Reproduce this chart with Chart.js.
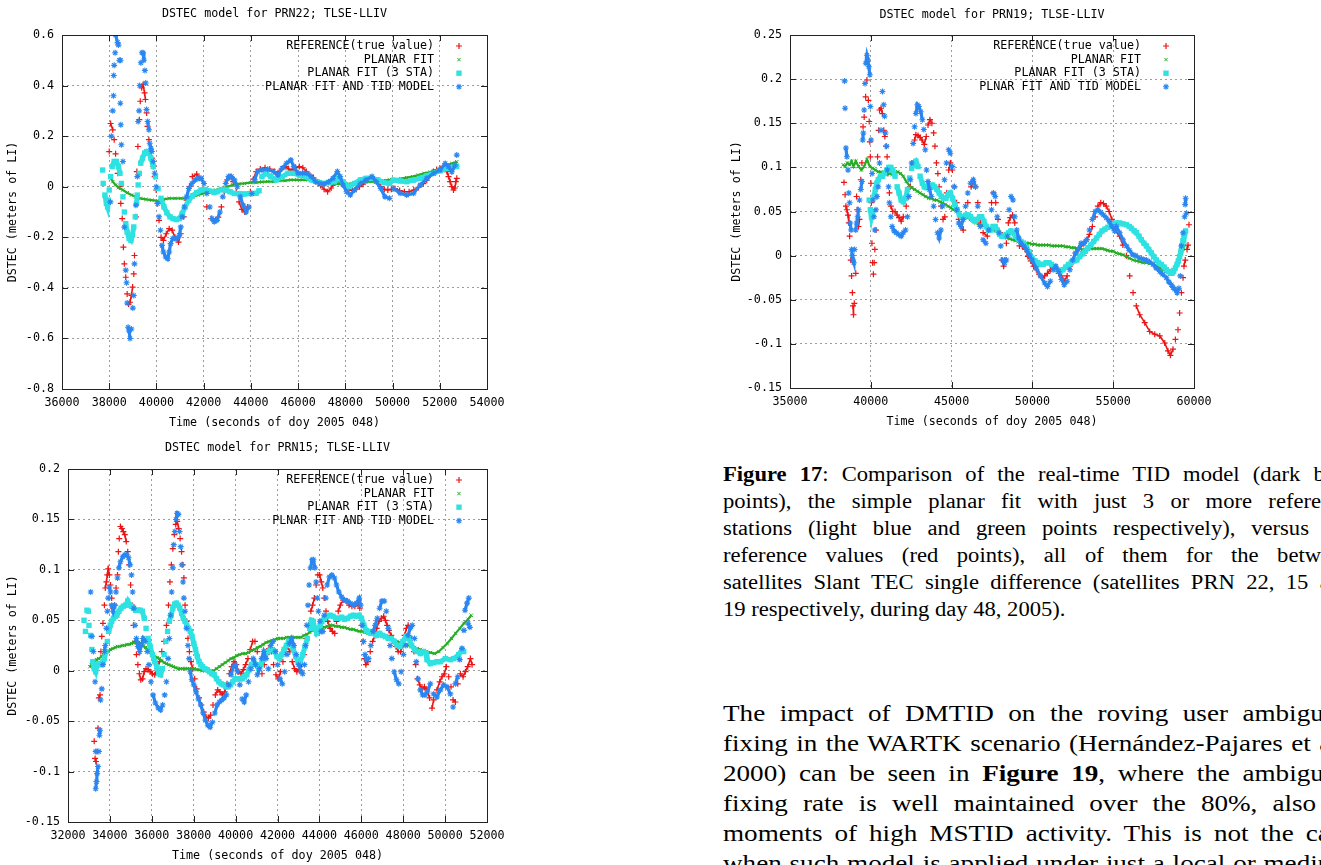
<!DOCTYPE html>
<html lang="en">
<head>
<meta charset="UTF-8">
<title>DSTEC model - TLSE-LLIV</title>
<script src="https://cdn.jsdelivr.net/npm/chart.js"></script>
<style>
  html, body { margin: 0; padding: 0; background: #fff; }
  body { position: relative; width: 1321px; height: 865px; overflow: hidden; }
  canvas { position: absolute; }
  .cap, .par { position: absolute; left: 723px; width: 557px; color: #000;
               font-family: "Liberation Serif", "Times New Roman", serif;
               transform: scaleX(1.13); transform-origin: 0 0; }
  .cap { top: 461px; font-size: 20px; line-height: 27px; }
  .par { top: 698px; font-size: 24px; line-height: 30px; }
  .j { text-align: justify; text-align-last: justify; }
</style>
<script>
// ---- series labels ----
const labels22 = ['REFERENCE(true value)', 'PLANAR FIT', 'PLANAR FIT (3 STA)', 'PLANAR FIT AND TID MODEL'];
const labels19 = ['REFERENCE(true value)', 'PLANAR FIT', 'PLANAR FIT (3 STA)', 'PLNAR FIT AND TID MODEL'];
const labels15 = labels19;

// ---- tick values ----
const prn22XTicks = [36000, 38000, 40000, 42000, 44000, 46000, 48000, 50000, 52000, 54000];
const prn22YTicks = [-0.8, -0.6, -0.4, -0.2, 0, 0.2, 0.4, 0.6];
const prn19XTicks = [35000, 40000, 45000, 50000, 55000, 60000];
const prn19YTicks = [-0.15, -0.1, -0.05, 0, 0.05, 0.1, 0.15, 0.2, 0.25];
const prn15XTicks = [32000, 34000, 36000, 38000, 40000, 42000, 44000, 46000, 48000, 50000, 52000];
const prn15YTicks = [-0.15, -0.1, -0.05, 0, 0.05, 0.1, 0.15, 0.2];

// ---- PRN22 : [time (s), DSTEC (m of LI)] ----
const prn22Ref = [[38000,0.139],[38060,0.25],[38150,0.225],[38210,0.186],[38270,0.13],[38360,0.053],[38430,0],[38490,-0.066],[38550,-0.126],[38600,-0.239],[38640,-0.305],[38700,-0.358],[38760,-0.424],[38820,-0.464],[38880,-0.457],[38940,-0.43],[38990,-0.397],[39040,-0.345],[39070,-0.272],[39130,-0.119],[39170,0.06],[39215,0.159],[39275,0.265],[39315,0.338],[39375,0.391],[39435,0.404],[39495,0.371],[39535,0.345],[39585,0.292],[39620,0.239],[39680,0.186],[39740,0.146],[39805,0.113],[39865,0.08],[39925,0.04],[39990,-0.013],[40050,-0.066],[40110,-0.133],[40195,-0.2],[40295,-0.212],[40415,-0.186],[40540,-0.166],[40665,-0.172],[40785,-0.2],[40935,-0.219],[41030,-0.186],[41155,-0.119],[41275,-0.053],[41400,0],[41520,0.04],[41705,0.05],[41830,0.033],[41950,-0.013],[42135,-0.08],[42320,-0.126],[42500,-0.133],[42620,-0.12],[42750,-0.08],[42870,-0.02],[43000,0.027],[43120,0.04],[43250,0.02],[43380,-0.02],[43500,-0.06],[43620,-0.09],[43740,-0.1],[43860,-0.08],[43980,-0.02],[44100,0.03],[44230,0.06],[44400,0.07],[44600,0.075],[44800,0.07],[45000,0.06],[45150,0.055],[45300,0.07],[45450,0.08],[45600,0.07],[45750,0.065],[45900,0.075],[46050,0.08],[46200,0.075],[46350,0.06],[46500,0.045],[46650,0.035],[46800,0.02],[46950,0.005],[47100,-0.01],[47250,-0.02],[47400,-0.005],[47550,0.015],[47700,0.03],[47850,0.015],[48000,0],[48150,-0.01],[48300,-0.015],[48450,-0.01],[48600,0],[48750,0.01],[48900,0.025],[49050,0.033],[49200,0.03],[49350,0.02],[49500,0],[49650,-0.01],[49800,-0.013],[49950,-0.01],[50100,-0.007],[50300,-0.015],[50500,-0.02],[50700,-0.02],[50900,-0.013],[51100,-0.003],[51300,0.012],[51450,0.026],[51600,0.045],[51730,0.06],[51870,0.068],[52015,0.072],[52150,0.078],[52230,0.08],[52300,0.06],[52370,0.04],[52440,0.02],[52510,0],[52580,-0.013],[52640,-0.005],[52680,0.02],[52720,0.033]];
const prn22Planar = [[38025,0.04],[38150,0.02],[38270,0.007],[38390,-0.003],[38575,-0.013],[38760,-0.024],[38945,-0.033],[39130,-0.04],[39315,-0.046],[39560,-0.05],[39805,-0.053],[40050,-0.056],[40295,-0.05],[40540,-0.046],[40785,-0.046],[41030,-0.046],[41275,-0.046],[41520,-0.04],[41770,-0.033],[42015,-0.026],[42260,-0.02],[42505,-0.013],[42750,-0.007],[42995,0],[43240,0.007],[43485,0.011],[43730,0.013],[43980,0.016],[44220,0.016],[44465,0.019],[44710,0.02],[44960,0.02],[45200,0.024],[45450,0.024],[45690,0.027],[45940,0.027],[46185,0.027],[46430,0.027],[46675,0.024],[46920,0.02],[47165,0.016],[47410,0.013],[47655,0.011],[47900,0.011],[48145,0.011],[48390,0.013],[48640,0.016],[48880,0.019],[49130,0.02],[49375,0.023],[49620,0.024],[49865,0.027],[50110,0.029],[50355,0.032],[50600,0.036],[50845,0.04],[51090,0.046],[51335,0.053],[51600,0.058],[51730,0.063],[52015,0.072],[52300,0.086],[52510,0.092],[52720,0.099]];
const prn22Planar3 = [[37720,0.066],[37745,0.013],[37815,-0.033],[37880,-0.066],[37930,-0.08],[37965,-0.053],[38000,-0.013],[38060,0.04],[38125,0.08],[38210,0.1],[38305,0.1],[38390,0.08],[38455,0.053],[38515,0.013],[38580,-0.04],[38640,-0.1],[38700,-0.146],[38760,-0.179],[38845,-0.205],[38920,-0.212],[38980,-0.192],[39040,-0.159],[39105,-0.119],[39155,-0.066],[39190,-0.033],[39225,0.007],[39275,0.053],[39335,0.093],[39410,0.113],[39500,0.133],[39585,0.139],[39680,0.133],[39765,0.113],[39865,0.08],[39960,0.04],[40070,-0.007],[40195,-0.046],[40320,-0.08],[40440,-0.103],[40575,-0.119],[40700,-0.126],[40845,-0.13],[40970,-0.126],[41090,-0.106],[41215,-0.08],[41370,-0.053],[41520,-0.036],[41705,-0.023],[41890,-0.013],[42075,-0.011],[42260,-0.017],[42440,-0.023],[42565,-0.02],[42750,-0.011],[42935,-0.013],[43120,-0.02],[43300,-0.027],[43490,-0.027],[43730,-0.029],[43980,-0.027],[44220,-0.026],[44345,-0.016],[44465,0.04],[44650,0.053],[44835,0.04],[45080,0.027],[45325,0.04],[45570,0.053],[45815,0.053],[46060,0.046],[46310,0.04],[46555,0.027],[46800,0.02],[47045,0.013],[47290,0.016],[47535,0.02],[47720,0.033],[47900,0.02],[48150,0],[48390,0.013],[48640,0.027],[48880,0.033],[49130,0.033],[49375,0.027],[49620,0.016],[49865,0.013],[50040,0.026],[50320,0.023],[50600,0.02],[50890,0.026],[51170,0.033],[51450,0.043],[51730,0.053],[52015,0.063],[52300,0.072],[52510,0.076],[52720,0.08]];
const prn22Tid = [[38050,-0.06],[38090,0.2],[38150,0.3],[38180,0.36],[38190,0.44],[38210,0.48],[38250,0.53],[38270,0.6],[38355,0.57],[38390,0.56],[38430,0.5],[38480,0.5],[38470,0.33],[38490,0.245],[38515,0.166],[38580,0.1],[38640,-0.16],[38700,-0.33],[38735,-0.38],[38760,-0.46],[38800,-0.556],[38845,-0.57],[38880,-0.6],[38940,-0.563],[39000,-0.48],[39040,-0.43],[39070,-0.305],[39130,-0.073],[39190,0.04],[39225,0.258],[39265,0.3],[39290,0.4],[39340,0.49],[39385,0.53],[39435,0.53],[39470,0.5],[39510,0.46],[39545,0.41],[39580,0.305],[39630,0.258],[39680,0.225],[39715,0.172],[39765,0.152],[39805,0.139],[39865,0.1],[39925,0.053],[39990,0],[40050,-0.066],[40110,-0.119],[40170,-0.172],[40235,-0.232],[40295,-0.258],[40390,-0.278],[40480,-0.285],[40540,-0.258],[40600,-0.225],[40690,-0.205],[40785,-0.205],[40885,-0.205],[40970,-0.192],[41030,-0.159],[41090,-0.119],[41180,-0.08],[41275,-0.04],[41375,-0.007],[41500,0.013],[41645,0.027],[41770,0.033],[41890,0.033],[42015,0.013],[42135,-0.027],[42260,-0.08],[42355,-0.126],[42450,-0.139],[42565,-0.133],[42690,-0.1],[42810,-0.04],[42935,0.013],[43055,0.04],[43180,0.04],[43300,0.027],[43425,0],[43550,-0.04],[43670,-0.073],[43795,-0.1],[43920,-0.08],[44040,-0.027],[44160,0.027],[44285,0.06],[44465,0.066],[44710,0.069],[44960,0.06],[45140,0.046],[45325,0.073],[45510,0.093],[45690,0.106],[45815,0.08],[46000,0.053],[46185,0.053],[46370,0.053],[46555,0.04],[46740,0.02],[46920,0.013],[47105,0.011],[47290,0.02],[47475,0.033],[47660,0.06],[47780,0.04],[47900,0.007],[48050,-0.02],[48210,-0.033],[48390,-0.013],[48640,0.013],[48880,0.027],[49130,0.04],[49310,0.02],[49500,-0.007],[49680,-0.04],[49865,-0.046],[50040,-0.007],[50320,-0.026],[50600,-0.033],[50890,-0.026],[51170,0.007],[51450,0.033],[51730,0.053],[52015,0.066],[52230,0.092],[52370,0.079],[52510,0.059],[52650,0.086],[52720,0.125]];

// ---- PRN19 ----
const prn19Ref = [[38340,0.083],[38410,0.069],[38460,0.056],[38520,0.052],[38590,0.046],[38640,0.037],[38690,0.022],[38760,-0.005],[38810,-0.023],[38860,-0.042],[38900,-0.057],[38930,-0.067],[38980,-0.054],[39070,-0.02],[39120,0.067],[39160,0.052],[39240,0.033],[39300,0.041],[39380,0.086],[39450,0.105],[39520,0.146],[39590,0.157],[39680,0.18],[39760,0.199],[39850,0.176],[39900,0.152],[39940,0.129],[39970,0.112],[40010,0.082],[40040,0.06],[40070,0.014],[40110,-0.008],[40160,-0.021],[40210,-0.008],[40250,0.007],[40320,0.029],[40370,0.067],[40420,0.112],[40490,0.142],[40540,0.165],[40630,0.167],[40720,0.161],[40800,0.142],[40870,0.135],[40940,0.124],[41010,0.112],[41060,0.093],[41150,0.071],[41240,0.056],[41360,0.05],[41500,0.05],[41630,0.046],[41750,0.043],[41880,0.039],[42010,0.044],[42190,0.056],[42330,0.067],[42450,0.078],[42590,0.105],[42710,0.131],[42790,0.137],[42920,0.136],[43050,0.134],[43170,0.131],[43310,0.126],[43430,0.135],[43540,0.148],[43660,0.154],[43780,0.15],[43890,0.139],[43970,0.124],[44060,0.105],[44150,0.093],[44230,0.078],[44350,0.056],[44470,0.041],[44580,0.044],[44700,0.071],[44820,0.097],[44920,0.105],[45050,0.097],[45170,0.078],[45310,0.06],[45440,0.041],[45580,0.033],[45720,0.029],[45860,0.044],[46000,0.06],[46210,0.078],[46340,0.084],[46480,0.078],[46620,0.06],[46780,0.037],[46950,0.026],[47210,0.022],[47470,0.06],[47590,0.071],[47730,0.06],[47870,0.041],[47990,0.026],[48110,-0.005],[48220,-0.012],[48300,-0.005],[48390,0.014],[48510,0.037],[48630,0.043],[48770,0.046],[48910,0.037],[49030,0.022],[49200,0.011],[49380,0.011],[49550,0.007],[49720,-0.001],[49900,-0.006],[50070,-0.012],[50240,-0.016],[50410,-0.021],[50590,-0.025],[50760,-0.023],[50930,-0.02],[51110,-0.016],[51280,-0.012],[51450,-0.014],[51630,-0.02],[51800,-0.023],[51970,-0.029],[52150,-0.023],[52320,-0.012],[52490,-0.005],[52670,0.003],[52840,0.007],[53010,0.011],[53190,0.014],[53360,0.018],[53530,0.024],[53710,0.033],[53880,0.044],[54050,0.056],[54230,0.06],[54400,0.059],[54570,0.056],[54750,0.05],[54920,0.041],[55090,0.029],[55400,0.022],[55600,0.012],[55820,0],[56020,-0.023],[56230,-0.042],[56430,-0.057],[56640,-0.067],[56950,-0.076],[57260,-0.086],[57570,-0.089],[57880,-0.091],[58190,-0.099],[58390,-0.108],[58540,-0.113],[58700,-0.106],[58850,-0.095],[59010,-0.084],[59110,-0.065],[59220,-0.042],[59320,-0.025],[59380,-0.012],[59460,-0.005],[59570,0.007],[59630,0.012],[59690,0.035]];
const prn19Planar = [[38290,0.103],[38410,0.101],[38550,0.105],[38690,0.103],[38810,0.107],[38930,0.101],[39070,0.107],[39240,0.101],[39420,0.097],[39590,0.101],[39760,0.109],[39940,0.101],[40110,0.099],[40280,0.097],[40460,0.095],[40630,0.095],[40800,0.093],[40980,0.093],[41150,0.093],[41320,0.092],[41500,0.093],[41670,0.095],[41840,0.093],[42010,0.09],[42190,0.084],[42360,0.08],[42530,0.077],[42710,0.075],[42880,0.073],[43050,0.071],[43230,0.069],[43400,0.067],[43570,0.065],[43750,0.065],[43920,0.063],[44090,0.063],[44270,0.061],[44440,0.06],[44610,0.058],[44790,0.056],[44960,0.054],[45130,0.052],[45310,0.05],[45480,0.048],[45650,0.046],[45830,0.044],[46000,0.043],[46170,0.041],[46340,0.039],[46520,0.037],[46690,0.035],[46860,0.035],[47040,0.034],[47210,0.033],[47380,0.031],[47560,0.029],[47730,0.028],[47900,0.026],[48080,0.024],[48250,0.022],[48420,0.02],[48600,0.019],[48770,0.018],[48940,0.017],[49120,0.016],[49290,0.015],[49460,0.015],[49640,0.014],[49810,0.014],[49980,0.013],[50160,0.013],[50330,0.012],[50500,0.012],[50670,0.012],[50850,0.012],[51020,0.012],[51190,0.011],[51370,0.011],[51540,0.011],[51710,0.011],[51890,0.011],[52060,0.01],[52230,0.01],[52410,0.009],[52580,0.009],[52750,0.008],[52930,0.008],[53100,0.007],[53270,0.007],[53450,0.007],[53620,0.008],[53790,0.008],[53970,0.008],[54140,0.008],[54310,0.008],[54490,0.007],[54660,0.006],[54830,0.005],[55000,0.005],[55180,0.003],[55400,0.002],[55600,0.001],[55820,-0.001],[56000,-0.003],[56230,-0.005],[56450,-0.006],[56640,-0.007],[56850,-0.008],[57050,-0.008],[57250,-0.009],[57470,-0.01],[57670,-0.012],[57880,-0.014],[58080,-0.016],[58290,-0.018],[58500,-0.018],[58700,-0.016],[58900,-0.012],[59070,-0.006],[59220,0.002],[59320,0.007],[59420,0.012]];
const prn19Planar3 = [[39900,0.063],[39970,0.052],[40040,0.044],[40110,0.05],[40200,0.067],[40280,0.075],[40370,0.082],[40460,0.086],[40590,0.09],[40720,0.09],[40840,0.093],[40980,0.097],[41110,0.1],[41240,0.1],[41360,0.097],[41500,0.09],[41630,0.078],[41750,0.071],[41880,0.063],[42010,0.061],[42150,0.065],[42270,0.075],[42400,0.088],[42530,0.099],[42670,0.105],[42790,0.107],[42920,0.101],[43050,0.09],[43190,0.082],[43310,0.078],[43430,0.077],[43570,0.078],[43710,0.078],[43830,0.08],[43950,0.078],[44090,0.075],[44230,0.071],[44370,0.067],[44510,0.065],[44650,0.065],[44790,0.069],[44920,0.071],[45060,0.065],[45200,0.058],[45340,0.052],[45480,0.046],[45620,0.044],[45760,0.044],[45890,0.046],[46030,0.046],[46170,0.044],[46310,0.041],[46450,0.039],[46590,0.041],[46730,0.044],[46860,0.044],[47000,0.039],[47140,0.033],[47280,0.029],[47420,0.029],[47560,0.033],[47700,0.033],[47830,0.029],[47970,0.024],[48110,0.022],[48250,0.022],[48390,0.024],[48530,0.026],[48670,0.028],[48800,0.026],[48940,0.022],[49120,0.019],[49290,0.016],[49460,0.014],[49640,0.009],[49810,0.004],[49980,-0.003],[50160,-0.006],[50330,-0.008],[50500,-0.01],[50670,-0.01],[50850,-0.008],[51020,-0.008],[51190,-0.01],[51370,-0.014],[51540,-0.016],[51710,-0.018],[51890,-0.016],[52060,-0.013],[52230,-0.01],[52410,-0.008],[52580,-0.006],[52750,-0.005],[52930,-0.001],[53100,0.002],[53270,0.005],[53450,0.009],[53620,0.012],[53790,0.016],[53970,0.02],[54140,0.024],[54310,0.028],[54490,0.03],[54660,0.032],[54830,0.034],[55000,0.035],[55200,0.037],[55400,0.037],[55600,0.036],[55820,0.035],[56000,0.033],[56130,0.031],[56300,0.028],[56430,0.026],[56600,0.022],[56740,0.018],[56900,0.014],[57050,0.011],[57200,0.007],[57360,0.003],[57500,-0.001],[57670,-0.005],[57800,-0.008],[57980,-0.01],[58150,-0.013],[58290,-0.016],[58420,-0.018],[58540,-0.02],[58640,-0.02],[58740,-0.018],[58850,-0.014],[58950,-0.01],[59030,-0.006],[59110,-0.001],[59190,0.005],[59260,0.011],[59320,0.017],[59380,0.022],[59430,0.025],[59480,0.028]];
const prn19Tid = [[38380,0.198],[38410,0.167],[38460,0.122],[38520,0.112],[38590,0.097],[38640,0.071],[38690,0.06],[38720,0.037],[38780,0.029],[38810,0.007],[38860,0],[38900,-0.005],[38950,-0.008],[39000,0.007],[39070,0.029],[39120,0.037],[39190,0.044],[39240,0.052],[39300,0.063],[39380,0.075],[39450,0.084],[39500,0.131],[39540,0.139],[39590,0.165],[39640,0.195],[39690,0.218],[39760,0.227],[39820,0.222],[39880,0.214],[39940,0.205],[39970,0.169],[40020,0.131],[40080,0.093],[40140,0.063],[40200,0.044],[40250,0.029],[40320,0.052],[40390,0.067],[40460,0.078],[40540,0.105],[40630,0.142],[40720,0.186],[40800,0.171],[40850,0.158],[40910,0.139],[40980,0.124],[41030,0.097],[41100,0.078],[41150,0.06],[41240,0.044],[41320,0.033],[41440,0.028],[41580,0.026],[41720,0.024],[41880,0.022],[42010,0.026],[42150,0.029],[42270,0.044],[42360,0.067],[42450,0.086],[42530,0.105],[42620,0.127],[42710,0.146],[42790,0.161],[42880,0.171],[42970,0.169],[43090,0.163],[43190,0.154],[43280,0.143],[43370,0.12],[43450,0.097],[43540,0.084],[43630,0.075],[43750,0.067],[43890,0.056],[44010,0.041],[44130,0.026],[44230,0.02],[44340,0.029],[44440,0.056],[44560,0.086],[44680,0.105],[44820,0.12],[44920,0.116],[45050,0.101],[45170,0.078],[45310,0.052],[45440,0.037],[45580,0.033],[45720,0.041],[45860,0.056],[46000,0.071],[46170,0.082],[46340,0.086],[46480,0.078],[46620,0.056],[46780,0.033],[46950,0.018],[47120,0.014],[47300,0.029],[47470,0.052],[47590,0.071],[47700,0.067],[47820,0.044],[47940,0.026],[48040,0.011],[48160,-0.005],[48280,-0.008],[48390,-0.005],[48460,0.022],[48560,0.052],[48680,0.067],[48800,0.063],[48910,0.044],[49030,0.029],[49150,0.02],[49290,0.014],[49460,0.011],[49640,0.007],[49810,0.001],[49980,-0.005],[50240,-0.014],[50500,-0.023],[50760,-0.031],[50930,-0.035],[51110,-0.029],[51280,-0.016],[51450,-0.012],[51630,-0.018],[51800,-0.027],[51970,-0.033],[52150,-0.029],[52320,-0.016],[52490,-0.005],[52670,0.003],[52840,0.007],[53010,0.014],[53190,0.014],[53360,0.018],[53530,0.029],[53710,0.041],[53880,0.05],[54050,0.052],[54230,0.049],[54400,0.046],[54570,0.043],[54750,0.039],[54920,0.033],[55090,0.028],[55200,0.033],[55400,0.026],[55600,0.018],[55820,0.011],[56000,0.006],[56230,0.001],[56400,0],[56640,-0.003],[56850,-0.004],[57050,-0.005],[57250,-0.007],[57470,-0.01],[57650,-0.014],[57880,-0.018],[58050,-0.021],[58290,-0.025],[58450,-0.03],[58600,-0.033],[58700,-0.036],[58800,-0.038],[58950,-0.042],[59070,-0.037],[59150,-0.023],[59220,0.011],[59320,0.026],[59420,0.044],[59450,0.058],[59480,0.065],[59530,0.048]];

// ---- PRN15 ----
const prn15Ref = [[33182,0.004],[33251,-0.07],[33293,-0.087],[33334,-0.09],[33390,-0.08],[33432,-0.057],[33473,-0.027],[33529,-0.024],[33571,0.019],[33612,0.034],[33668,0.047],[33738,0.065],[33779,0.082],[33835,0.088],[33877,0.095],[33918,0.101],[33974,0.095],[34029,0.085],[34085,0.072],[34155,0.062],[34224,0.065],[34294,0.082],[34363,0.095],[34405,0.118],[34446,0.131],[34502,0.143],[34572,0.141],[34641,0.138],[34711,0.135],[34780,0.128],[34850,0.118],[34919,0.105],[34989,0.085],[35058,0.065],[35128,0.045],[35197,0.029],[35267,0.016],[35336,0.006],[35406,-0.003],[35475,-0.009],[35558,-0.008],[35642,-0.001],[35725,0.002],[35822,0.001],[35920,-0.001],[36031,-0.003],[36142,-0.004],[36253,0.002],[36365,0.009],[36476,0.019],[36587,0.029],[36698,0.045],[36796,0.065],[36865,0.088],[36935,0.105],[37004,0.121],[37074,0.135],[37143,0.145],[37213,0.148],[37282,0.141],[37352,0.131],[37421,0.118],[37477,0.105],[37532,0.092],[37588,0.065],[37657,0.049],[37727,0.032],[37796,0.019],[37866,0.009],[37949,0.002],[38047,-0.008],[38144,-0.018],[38255,-0.027],[38366,-0.034],[38477,-0.041],[38589,-0.046],[38700,-0.047],[38811,-0.044],[38922,-0.034],[39033,-0.024],[39145,-0.019],[39256,-0.021],[39367,-0.024],[39478,-0.021],[39589,-0.013],[39701,-0.003],[39812,0.004],[39923,0.009],[40034,0.006],[40145,-0.001],[40257,-0.003],[40368,0.001],[40479,0.006],[40590,0.012],[40701,0.021],[40813,0.029],[40924,0.029],[41035,0.019],[41146,0.006],[41258,-0.003],[41369,0.006],[41480,0.016],[41591,0.022],[41702,0.019],[41813,0.006],[41925,-0.004],[42036,-0.008],[42147,-0.001],[42258,0.009],[42369,0.019],[42481,0.024],[42592,0.019],[42703,0.009],[42814,0.002],[42925,-0.001],[43037,0.001],[43148,0.006],[43259,0.016],[43370,0.032],[43481,0.045],[43592,0.059],[43676,0.065],[43759,0.072],[43843,0.085],[43926,0.095],[44010,0.095],[44093,0.088],[44163,0.082],[44232,0.072],[44315,0.059],[44399,0.049],[44510,0.042],[44621,0.039],[44732,0.037],[44816,0.049],[44899,0.059],[44997,0.065],[45136,0.07],[45275,0.069],[45414,0.065],[45553,0.064],[45692,0.064],[45830,0.067],[45928,0.062],[46011,0.045],[46081,0.029],[46150,0.012],[46220,0.006],[46317,0.009],[46428,0.019],[46540,0.029],[46651,0.035],[46734,0.042],[46845,0.049],[46956,0.052],[47068,0.054],[47151,0.05],[47234,0.045],[47318,0.04],[47429,0.035],[47540,0.03],[47651,0.024],[47762,0.019],[47874,0.019],[47985,0.025],[48068,0.035],[48152,0.042],[48235,0.045],[48319,0.042],[48402,0.032],[48513,0.019],[48596,0.006],[48680,-0.008],[48791,-0.014],[48902,-0.018],[49013,-0.016],[49125,-0.019],[49263,-0.027],[49375,-0.037],[49454,-0.029],[49613,-0.019],[49741,-0.011],[49853,-0.006],[49964,-0.003],[50060,0.004],[50172,-0.006],[50283,-0.016],[50379,-0.029],[50490,-0.031],[50602,-0.013],[50730,-0.003],[50857,-0.006],[50969,-0.001],[51080,0.004],[51208,0.012],[51288,0.006]];
const prn15Planar = [[33043,0.004],[33112,0.006],[33182,0.007],[33251,0.009],[33362,0.011],[33460,0.012],[33599,0.014],[33696,0.016],[33807,0.017],[33918,0.019],[34029,0.021],[34141,0.022],[34252,0.023],[34363,0.024],[34474,0.024],[34585,0.025],[34697,0.025],[34808,0.026],[34919,0.026],[35030,0.027],[35141,0.028],[35253,0.028],[35364,0.028],[35475,0.027],[35586,0.025],[35697,0.023],[35809,0.021],[35920,0.018],[36031,0.016],[36142,0.014],[36253,0.013],[36365,0.012],[36476,0.01],[36587,0.008],[36698,0.007],[36809,0.006],[36921,0.005],[37032,0.004],[37143,0.003],[37254,0.002],[37365,0.002],[37477,0.002],[37588,0.002],[37699,0.002],[37810,0.002],[37921,0.002],[38033,0.002],[38144,0.001],[38255,0.001],[38394,0],[38533,0],[38672,0],[38811,0],[38950,0],[39089,0.002],[39228,0.004],[39367,0.006],[39506,0.008],[39645,0.01],[39784,0.012],[39923,0.013],[40062,0.015],[40201,0.016],[40340,0.017],[40479,0.017],[40618,0.018],[40757,0.02],[40896,0.021],[41035,0.023],[41174,0.024],[41313,0.026],[41452,0.028],[41591,0.029],[41730,0.03],[41869,0.031],[42008,0.032],[42147,0.032],[42286,0.032],[42425,0.033],[42564,0.033],[42703,0.033],[42842,0.033],[42981,0.033],[43120,0.033],[43259,0.035],[43398,0.036],[43537,0.038],[43676,0.04],[43815,0.041],[43954,0.042],[44093,0.043],[44232,0.043],[44371,0.044],[44510,0.045],[44649,0.045],[44788,0.044],[44927,0.044],[45066,0.043],[45205,0.043],[45344,0.042],[45483,0.041],[45622,0.041],[45761,0.04],[45900,0.039],[46039,0.039],[46178,0.038],[46317,0.037],[46456,0.037],[46595,0.036],[46734,0.035],[46873,0.035],[47012,0.034],[47151,0.033],[47290,0.032],[47429,0.031],[47568,0.03],[47707,0.029],[47846,0.028],[47985,0.027],[48124,0.026],[48263,0.025],[48402,0.024],[48541,0.023],[48680,0.022],[48819,0.021],[48958,0.02],[49097,0.019],[49300,0.018],[49500,0.017],[49700,0.019],[49900,0.023],[50100,0.027],[50300,0.032],[50500,0.037],[50700,0.042],[50900,0.047],[51100,0.051],[51250,0.055]];
const prn15Planar3 = [[32765,0.05],[32834,0.039],[32904,0.06],[32973,0.059],[33001,0.045],[33084,0.035],[33140,0.021],[33182,0.009],[33251,0.002],[33321,-0.001],[33390,0.006],[33460,0.007],[33529,0.006],[33599,0.007],[33668,0.009],[33738,0.012],[33807,0.019],[33877,0.029],[33946,0.039],[34016,0.045],[34085,0.049],[34168,0.052],[34252,0.054],[34335,0.055],[34433,0.059],[34530,0.062],[34641,0.064],[34752,0.065],[34850,0.069],[34947,0.065],[35030,0.064],[35128,0.062],[35225,0.06],[35336,0.06],[35447,0.06],[35545,0.059],[35642,0.052],[35725,0.042],[35822,0.032],[35920,0.024],[36031,0.016],[36142,0.009],[36240,0.004],[36337,-0.003],[36420,-0.004],[36504,0.002],[36587,0.016],[36670,0.029],[36754,0.039],[36837,0.049],[36921,0.055],[37004,0.062],[37087,0.066],[37171,0.067],[37254,0.065],[37338,0.062],[37421,0.057],[37505,0.052],[37588,0.049],[37671,0.045],[37755,0.042],[37838,0.039],[37921,0.034],[38005,0.027],[38088,0.021],[38172,0.014],[38255,0.009],[38338,0.006],[38422,0.004],[38533,0.002],[38644,0.001],[38755,-0.001],[38867,-0.003],[38978,-0.004],[39089,-0.008],[39200,-0.011],[39311,-0.013],[39423,-0.014],[39534,-0.016],[39645,-0.016],[39756,-0.014],[39867,-0.011],[39979,-0.008],[40090,-0.008],[40201,-0.008],[40312,-0.008],[40423,-0.006],[40535,-0.004],[40646,0.001],[40757,0.006],[40868,0.009],[40979,0.006],[41091,0.002],[41202,0.006],[41313,0.011],[41424,0.016],[41535,0.019],[41647,0.021],[41758,0.021],[41869,0.019],[41980,0.014],[42091,0.012],[42203,0.016],[42314,0.021],[42425,0.025],[42536,0.029],[42647,0.027],[42759,0.021],[42870,0.014],[42981,0.009],[43092,0.009],[43203,0.016],[43315,0.024],[43426,0.032],[43537,0.042],[43620,0.05],[43704,0.049],[43787,0.042],[43871,0.037],[43954,0.039],[44037,0.045],[44121,0.049],[44232,0.052],[44371,0.054],[44510,0.055],[44649,0.054],[44788,0.052],[44927,0.052],[45066,0.053],[45205,0.051],[45344,0.052],[45483,0.054],[45622,0.055],[45761,0.054],[45900,0.055],[46011,0.052],[46122,0.045],[46234,0.04],[46345,0.039],[46456,0.037],[46595,0.037],[46734,0.035],[46873,0.037],[47012,0.035],[47151,0.034],[47290,0.032],[47429,0.032],[47568,0.029],[47707,0.025],[47846,0.024],[47985,0.029],[48124,0.034],[48263,0.032],[48402,0.025],[48541,0.021],[48680,0.019],[48819,0.017],[48958,0.019],[49097,0.017],[49135,0.011],[49295,0.007],[49454,0.008],[49613,0.009],[49773,0.009],[50012,0.012],[50251,0.011],[50411,0.012],[50650,0.016],[50809,0.021],[50888,0.019]];
const prn15Tid = [[33084,0.078],[33140,0.034],[33210,0.019],[33293,-0.011],[33321,-0.08],[33321,-0.117],[33362,-0.11],[33390,-0.102],[33432,-0.095],[33473,-0.08],[33501,-0.064],[33529,-0.059],[33557,-0.029],[33612,-0.018],[33668,0.006],[33738,0.019],[33779,0.025],[33835,0.042],[33877,0.059],[33918,0.072],[33974,0.083],[34029,0.078],[34085,0.065],[34155,0.059],[34224,0.065],[34294,0.078],[34363,0.092],[34433,0.102],[34502,0.108],[34613,0.113],[34711,0.115],[34808,0.115],[34891,0.112],[34961,0.105],[35030,0.095],[35086,0.078],[35141,0.062],[35197,0.045],[35267,0.032],[35336,0.024],[35420,0.019],[35503,0.025],[35586,0.032],[35683,0.029],[35781,0.019],[35864,0.006],[35961,-0.011],[36059,-0.024],[36170,-0.032],[36309,-0.037],[36420,-0.039],[36517,-0.034],[36615,-0.024],[36698,-0.011],[36782,0.012],[36837,0.032],[36893,0.055],[36948,0.078],[37004,0.102],[37046,0.125],[37101,0.138],[37157,0.15],[37213,0.156],[37268,0.155],[37324,0.138],[37380,0.123],[37435,0.105],[37491,0.088],[37532,0.072],[37588,0.059],[37657,0.042],[37727,0.025],[37783,0.012],[37838,-0.001],[37908,-0.009],[38005,-0.014],[38116,-0.021],[38227,-0.028],[38338,-0.034],[38450,-0.042],[38561,-0.049],[38672,-0.054],[38783,-0.056],[38894,-0.051],[39006,-0.042],[39117,-0.034],[39228,-0.031],[39339,-0.029],[39450,-0.027],[39562,-0.024],[39673,-0.014],[39784,-0.004],[39895,0.004],[39993,0.006],[40090,-0.001],[40201,-0.014],[40312,-0.028],[40410,-0.031],[40507,-0.024],[40618,-0.011],[40729,0.002],[40840,0.012],[40952,0.006],[41035,-0.004],[41146,0.002],[41244,0.012],[41341,0.019],[41452,0.012],[41563,0.002],[41674,0.025],[41786,0.029],[41897,0.019],[42008,0.006],[42119,-0.008],[42230,-0.013],[42342,-0.001],[42453,0.016],[42564,0.027],[42675,0.032],[42786,0.025],[42898,0.016],[43009,0.006],[43120,-0.001],[43203,-0.003],[43287,0.006],[43342,0.025],[43398,0.045],[43454,0.065],[43509,0.085],[43579,0.102],[43648,0.11],[43718,0.11],[43787,0.102],[43843,0.088],[43898,0.072],[43954,0.059],[44024,0.049],[44093,0.039],[44163,0.039],[44232,0.055],[44302,0.072],[44371,0.085],[44482,0.093],[44593,0.095],[44719,0.092],[44816,0.085],[44927,0.078],[45066,0.073],[45205,0.07],[45344,0.069],[45483,0.067],[45622,0.065],[45761,0.067],[45900,0.072],[45969,0.065],[46039,0.045],[46109,0.029],[46178,0.016],[46248,0.011],[46345,0.012],[46456,0.025],[46567,0.039],[46665,0.045],[46762,0.052],[46873,0.062],[46984,0.069],[47095,0.069],[47193,0.059],[47290,0.042],[47373,0.025],[47457,0.012],[47568,-0.001],[47679,-0.009],[47790,-0.013],[47902,-0.001],[48013,0.016],[48124,0.025],[48235,0.035],[48333,0.042],[48430,0.045],[48541,0.032],[48624,0.009],[48708,-0.008],[48819,-0.019],[48930,-0.024],[49041,-0.024],[49153,-0.021],[49295,-0.013],[49454,-0.023],[49613,-0.026],[49773,-0.019],[49932,-0.014],[50092,-0.016],[50251,-0.023],[50379,-0.036],[50490,-0.013],[50602,-0.006],[50698,0.011],[50809,0.022],[50900,0.04],[50950,0.06],[51050,0.067],[51130,0.072],[51100,0.047],[51180,0.043]];
</script>
</head>
<body>
<canvas id="prn22" width="600" height="431" style="left:0;top:0"></canvas>
<canvas id="prn19" width="597" height="430" style="left:724px;top:0"></canvas>
<canvas id="prn15" width="600" height="435" style="left:0;top:430px"></canvas>

<div class="cap">
  <div class="j"><b>Figure 17</b>: Comparison of the real-time TID model (dark blue</div>
  <div class="j">points), the simple planar fit with just 3 or more reference</div>
  <div class="j">stations (light blue and green points respectively), versus the</div>
  <div class="j">reference values (red points), all of them for the between</div>
  <div class="j">satellites Slant TEC single difference (satellites PRN 22, 15 and</div>
  <div>19 respectively, during day 48, 2005).</div>
</div>

<div class="par">
  <div class="j">The impact of DMTID on the roving user ambiguity</div>
  <div class="j">fixing in the WARTK scenario (Hernández-Pajares et al.,</div>
  <div class="j">2000) can be seen in <b>Figure 19</b>, where the ambiguity</div>
  <div class="j">fixing rate is well maintained over the 80%, also in</div>
  <div class="j">moments of high MSTID activity. This is not the case</div>
  <div class="j">when such model is applied under just a local or medium</div>
</div>

<script>
const gpFont = { family: 'DejaVu Sans Mono', size: 11.7 };
const gpFontCss = '11.7px "DejaVu Sans Mono"';

// gnuplot-like frame: box, inward ticks on all sides, title and right-aligned key
const gnuplotFrame = {
  id: 'gnuplotFrame',
  afterDatasetsDraw(chart, args, o) {
    const { ctx, chartArea: a, scales: { x, y } } = chart;
    ctx.save();
    ctx.strokeStyle = '#222';
    ctx.lineWidth = 1;
    ctx.beginPath();
    x.ticks.forEach(t => {
      const px = Math.round(x.getPixelForValue(t.value)) + 0.5;
      ctx.moveTo(px, a.bottom); ctx.lineTo(px, a.bottom - 6);
      ctx.moveTo(px, a.top); ctx.lineTo(px, a.top + 6);
    });
    y.ticks.forEach(t => {
      const py = Math.round(y.getPixelForValue(t.value)) + 0.5;
      ctx.moveTo(a.left, py); ctx.lineTo(a.left + 6, py);
      ctx.moveTo(a.right, py); ctx.lineTo(a.right - 6, py);
    });
    ctx.stroke();
    ctx.strokeRect(Math.round(a.left) + 0.5, Math.round(a.top) + 0.5, Math.round(a.width), Math.round(a.height));

    ctx.font = gpFontCss;
    ctx.fillStyle = '#000';
    ctx.textBaseline = 'middle';
    ctx.textAlign = 'center';
    ctx.fillText(o.title, (a.left + a.right) / 2, o.titleY);

    chart.data.datasets.forEach((ds, i) => {
      const ly = a.top + 11 + i * 13.6;
      ctx.textAlign = 'right';
      ctx.fillStyle = '#000';
      ctx.fillText(ds.label, a.right - 53, ly);
      ctx.strokeStyle = ds.pointBorderColor;
      ctx.fillStyle = ds.pointBackgroundColor;
      ctx.lineWidth = ds.pointBorderWidth || 1;
      Chart.helpers.drawPoint(ctx, {
        pointStyle: ds.pointStyle, radius: ds.pointRadius,
        borderWidth: ds.pointBorderWidth, rotation: 0
      }, a.right - 28, ly);
    });
    ctx.restore();
  }
};

// samples are dense in time: join neighbours into a band, leave steep jumps as loose marks
const hideJump = c => (Math.abs(c.p1.y - c.p0.y) > 9 || Math.abs(c.p1.x - c.p0.x) > 14) ? 'rgba(0,0,0,0)' : undefined;

function series(label, pts, color, style, radius, border, band, order) {
  return {
    label,
    data: pts.map(p => ({ x: p[0], y: p[1] })),
    pointStyle: style,
    pointRadius: radius,
    pointHoverRadius: radius,
    pointBorderWidth: border,
    pointBorderColor: color,
    pointBackgroundColor: color,
    showLine: true,
    borderColor: color,
    borderWidth: band,
    tension: 0,
    segment: { borderColor: hideJump },
    order
  };
}

const RED = '#ec1414', GREEN = '#26ad26', CYAN = '#2ee2e2', BLUE = '#2a86f0';

function makeChart(id, o) {
  const cv = document.getElementById(id);
  const W = cv.width, H = cv.height;
  return new Chart(cv, {
    type: 'scatter',
    data: {
      datasets: [
        series(o.labels[0], o.ref, RED, 'cross', 3, 1.2, 1.6, 4),
        series(o.labels[1], o.planar, GREEN, 'crossRot', 2.4, 1, 2.2, 3),
        series(o.labels[2], o.planar3, CYAN, 'rect', 3.8, 0, 5, 2),
        series(o.labels[3], o.tid, BLUE, 'star', 3, 1.1, 3.2, 1)
      ]
    },
    options: {
      responsive: false,
      animation: false,
      events: [],
      layout: { padding: { left: 0, top: o.top, right: W - o.right, bottom: 0 } },
      plugins: {
        legend: { display: false },
        tooltip: { enabled: false },
        gnuplotFrame: { title: o.title, titleY: o.titleY }
      },
      scales: {
        x: {
          type: 'linear', min: o.xTicks[0], max: o.xTicks[o.xTicks.length - 1],
          afterBuildTicks: s => { s.ticks = o.xTicks.map(v => ({ value: v })); },
          afterFit: s => { s.height = H - o.bottom; },
          ticks: { callback: v => String(v), font: gpFont, color: '#000', padding: 7, maxRotation: 0, autoSkip: false },
          grid: { color: '#9c9c9c', lineWidth: 1, drawTicks: false },
          border: { display: false, dash: [2, 3] },
          title: { display: true, text: 'Time (seconds of doy 2005 048)', font: gpFont, color: '#000', padding: { top: 0, bottom: o.xTitlePad } }
        },
        y: {
          type: 'linear', min: o.yTicks[0], max: o.yTicks[o.yTicks.length - 1],
          afterBuildTicks: s => { s.ticks = o.yTicks.map(v => ({ value: v })); },
          afterFit: s => { s.width = o.left; },
          ticks: { callback: v => String(v), font: gpFont, color: '#000', padding: 8, autoSkip: false },
          grid: { color: '#9c9c9c', lineWidth: 1, drawTicks: false },
          border: { display: false, dash: [2, 3] },
          title: { display: true, text: 'DSTEC (meters of LI)', font: gpFont, color: '#000', padding: { top: 6, bottom: 0 } }
        }
      }
    },
    plugins: [gnuplotFrame]
  });
}

makeChart('prn22', {
  title: 'DSTEC model for PRN22; TLSE-LLIV', titleY: 14,
  labels: labels22, ref: prn22Ref, planar: prn22Planar, planar3: prn22Planar3, tid: prn22Tid,
  xTicks: prn22XTicks, yTicks: prn22YTicks,
  left: 62, right: 487, top: 35, bottom: 389, xTitlePad: 1
});

makeChart('prn19', {
  title: 'DSTEC model for PRN19; TLSE-LLIV', titleY: 15,
  labels: labels19, ref: prn19Ref, planar: prn19Planar, planar3: prn19Planar3, tid: prn19Tid,
  xTicks: prn19XTicks, yTicks: prn19YTicks,
  left: 66, right: 470, top: 35, bottom: 388, xTitlePad: 1
});

makeChart('prn15', {
  title: 'DSTEC model for PRN15; TLSE-LLIV', titleY: 18,
  labels: labels15, ref: prn15Ref, planar: prn15Planar, planar3: prn15Planar3, tid: prn15Tid,
  xTicks: prn15XTicks, yTicks: prn15YTicks,
  left: 68, right: 487, top: 39, bottom: 392, xTitlePad: 2
});
</script>
</body>
</html>
